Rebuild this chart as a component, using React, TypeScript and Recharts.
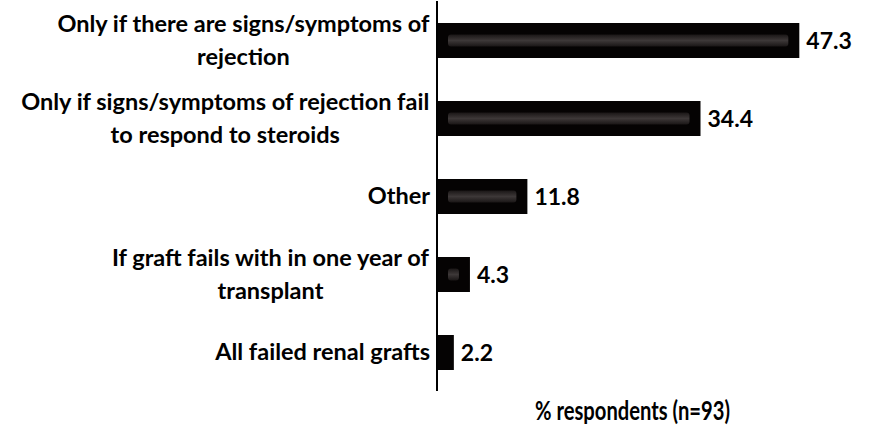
import React from "react";
import { BarChart, Bar, XAxis, YAxis, LabelList } from "recharts";

const categories = [
  "Only if there are signs/symptoms of\nrejection",
  "Only if signs/symptoms of rejection fail\nto respond to steroids",
  "Other",
  "If graft fails with in one year of\ntransplant",
  "All failed renal grafts",
];
const percents = [47.3, 34.4, 11.8, 4.3, 2.2];
const axisTitle = "% respondents (n=93)";

const data = categories.map((name, i) => ({ name, value: percents[i] }));

const FONT = "Lato, 'Open Sans', sans-serif";
const TICK_SIZE = 23.5;

let ctx: CanvasRenderingContext2D | null = null;
function textWidth(text: string) {
  if (!ctx) ctx = document.createElement("canvas").getContext("2d");
  if (!ctx) return text.length * 10.5;
  ctx.font = `bold ${TICK_SIZE}px ${FONT}`;
  return ctx.measureText(text).width;
}

function CategoryTick(props: any) {
  const { x, y, payload } = props;
  const lines = String(payload.value).split("\n");
  const w = textWidth(lines[0]);
  const cx = x - w / 2;
  const gap = 33;
  const top = y - ((lines.length - 1) * gap) / 2 - 1;
  return (
    <g>
      {lines.map((ln, i) => (
        <text
          key={i}
          x={cx}
          y={top + i * gap}
          textAnchor="middle"
          dominantBaseline="central"
          fontFamily={FONT}
          fontWeight="bold"
          fontSize={TICK_SIZE}
          fill="#000"
        >
          {ln}
        </text>
      ))}
    </g>
  );
}

// the title in the source is set in a tall, condensed face
function AxisTitle(props: any) {
  const { viewBox } = props;
  if (!viewBox) return null;
  return (
    <text
      x={viewBox.x + viewBox.width / 2 + 4}
      y={viewBox.y + 29}
      textAnchor="middle"
      fontFamily={FONT}
      fontWeight="bold"
      fontSize={27}
      textLength={195}
      lengthAdjust="spacingAndGlyphs"
      fill="#000"
    >
      {axisTitle}
    </text>
  );
}

function StripedBar(props: any) {
  const { x, y, width, height } = props;
  const inner = width - 22;
  return (
    <g>
      <rect x={x} y={y} width={width} height={height} fill="#050303" />
      {inner > 0 && (
        <rect
          x={x + 11}
          y={y + height / 2 - 6}
          width={inner}
          height={12}
          rx={3}
          fill="url(#stripe)"
        />
      )}
    </g>
  );
}

export default function App() {
  return (
    <div style={{ position: "absolute", left: 0, top: 0, background: "#fff" }}>
      <BarChart
        width={869}
        height={428}
        data={data}
        layout="vertical"
        margin={{ top: 1, right: 49, bottom: 0, left: 0 }}
        barSize={35}
      >
        <defs>
          <linearGradient id="stripe" x1="0" y1="0" x2="0" y2="1">
            <stop offset="0%" stopColor="#1a1616" />
            <stop offset="50%" stopColor="#3d3838" />
            <stop offset="100%" stopColor="#1a1616" />
          </linearGradient>
        </defs>
        <XAxis
          type="number"
          domain={[0, 50]}
          tick={false}
          axisLine={false}
          tickLine={false}
          height={37}
          label={<AxisTitle />}
        />
        <YAxis
          type="category"
          dataKey="name"
          width={437}
          tickSize={0}
          tickMargin={7}
          tickLine={false}
          axisLine={{ stroke: "#000", strokeWidth: 2 }}
          tick={<CategoryTick />}
          interval={0}
        />
        <Bar dataKey="value" shape={<StripedBar />} isAnimationActive={false}>
          <LabelList
            dataKey="value"
            position="right"
            offset={7}
            fill="#000"
            fontFamily={FONT}
            fontWeight="bold"
            fontSize={23}
          />
        </Bar>
      </BarChart>
    </div>
  );
}
